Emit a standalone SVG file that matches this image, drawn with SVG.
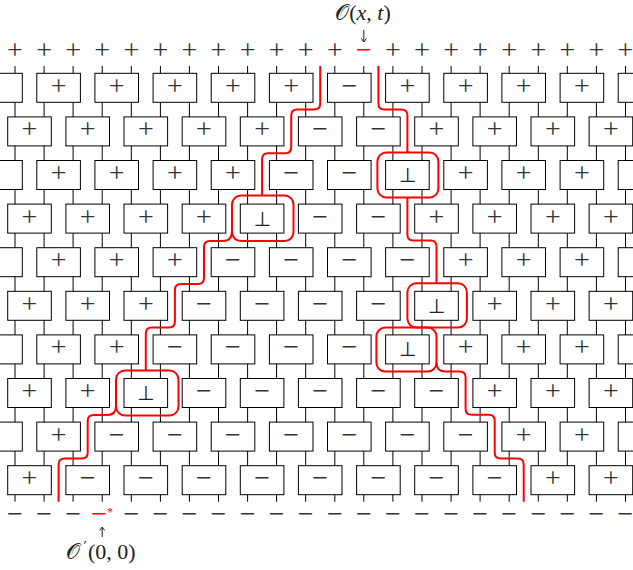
<svg xmlns="http://www.w3.org/2000/svg" width="633" height="570" viewBox="0 0 633 570">
<style>
.b{fill:#fff;stroke:#000;stroke-width:1}
.w{fill:none;stroke:#000;stroke-width:1}
.p{font-family:"Liberation Serif",serif;font-size:28px;text-anchor:middle;fill:#333}
.t{font-family:"DejaVu Sans",sans-serif;font-size:20px;text-anchor:middle;fill:#222}
.r{fill:none;stroke:#f00;stroke-width:2;stroke-linejoin:round}
.lab{font-family:"Liberation Serif",serif;font-size:22px;text-anchor:middle;fill:#222}
.ar{fill:none;stroke:#222;stroke-width:1}
.red{fill:#f00}
</style>
<rect width="633" height="570" fill="#fff"/>
<g id="connectors">
<path class="w" d="M15 66V501.7M44.1 66V501.7M73.1 66V501.7M102.2 66V501.7M131.3 66V501.7M160.4 66V501.7M189.4 66V501.7M218.5 66V501.7M247.6 66V501.7M276.6 66V501.7M305.7 66V501.7M334.8 66V501.7M363.8 66V501.7M392.9 66V501.7M422 66V501.7M451.1 66V501.7M480.1 66V501.7M509.2 66V501.7M538.3 66V501.7M567.3 66V501.7M596.4 66V501.7M625.5 66V501.7"/>
</g>
<g id="row1">
<g id="r1c0" transform="translate(-21.3 73.3)"><rect class="b" width="43.6" height="29"/></g>
<g id="r1c1" transform="translate(36.8 73.3)"><rect class="b" width="43.6" height="29"/><text class="p" x="21.8" y="21.5">+</text></g>
<g id="r1c2" transform="translate(94.9 73.3)"><rect class="b" width="43.6" height="29"/><text class="p" x="21.8" y="21.5">+</text></g>
<g id="r1c3" transform="translate(153.1 73.3)"><rect class="b" width="43.6" height="29"/><text class="p" x="21.8" y="21.5">+</text></g>
<g id="r1c4" transform="translate(211.2 73.3)"><rect class="b" width="43.6" height="29"/><text class="p" x="21.8" y="21.5">+</text></g>
<g id="r1c5" transform="translate(269.4 73.3)"><rect class="b" width="43.6" height="29"/><text class="p" x="21.8" y="21.5">+</text></g>
<g id="r1c6" transform="translate(327.5 73.3)"><rect class="b" width="43.6" height="29"/><text class="p" x="21.8" y="21.5">−</text></g>
<g id="r1c7" transform="translate(385.6 73.3)"><rect class="b" width="43.6" height="29"/><text class="p" x="21.8" y="21.5">+</text></g>
<g id="r1c8" transform="translate(443.8 73.3)"><rect class="b" width="43.6" height="29"/><text class="p" x="21.8" y="21.5">+</text></g>
<g id="r1c9" transform="translate(501.9 73.3)"><rect class="b" width="43.6" height="29"/><text class="p" x="21.8" y="21.5">+</text></g>
<g id="r1c10" transform="translate(560.1 73.3)"><rect class="b" width="43.6" height="29"/><text class="p" x="21.8" y="21.5">+</text></g>
<g id="r1c11" transform="translate(618.2 73.3)"><rect class="b" width="43.6" height="29"/></g>
</g>
<g id="row2">
<g id="r2c0" transform="translate(7.7 116.9)"><rect class="b" width="43.6" height="29"/><text class="p" x="21.8" y="21.5">+</text></g>
<g id="r2c1" transform="translate(65.9 116.9)"><rect class="b" width="43.6" height="29"/><text class="p" x="21.8" y="21.5">+</text></g>
<g id="r2c2" transform="translate(124 116.9)"><rect class="b" width="43.6" height="29"/><text class="p" x="21.8" y="21.5">+</text></g>
<g id="r2c3" transform="translate(182.2 116.9)"><rect class="b" width="43.6" height="29"/><text class="p" x="21.8" y="21.5">+</text></g>
<g id="r2c4" transform="translate(240.3 116.9)"><rect class="b" width="43.6" height="29"/><text class="p" x="21.8" y="21.5">+</text></g>
<g id="r2c5" transform="translate(298.4 116.9)"><rect class="b" width="43.6" height="29"/><text class="p" x="21.8" y="21.5">−</text></g>
<g id="r2c6" transform="translate(356.6 116.9)"><rect class="b" width="43.6" height="29"/><text class="p" x="21.8" y="21.5">−</text></g>
<g id="r2c7" transform="translate(414.7 116.9)"><rect class="b" width="43.6" height="29"/><text class="p" x="21.8" y="21.5">+</text></g>
<g id="r2c8" transform="translate(472.9 116.9)"><rect class="b" width="43.6" height="29"/><text class="p" x="21.8" y="21.5">+</text></g>
<g id="r2c9" transform="translate(531 116.9)"><rect class="b" width="43.6" height="29"/><text class="p" x="21.8" y="21.5">+</text></g>
<g id="r2c10" transform="translate(589.1 116.9)"><rect class="b" width="43.6" height="29"/><text class="p" x="21.8" y="21.5">+</text></g>
</g>
<g id="row3">
<g id="r3c0" transform="translate(-21.3 160.5)"><rect class="b" width="43.6" height="29"/></g>
<g id="r3c1" transform="translate(36.8 160.5)"><rect class="b" width="43.6" height="29"/><text class="p" x="21.8" y="21.5">+</text></g>
<g id="r3c2" transform="translate(94.9 160.5)"><rect class="b" width="43.6" height="29"/><text class="p" x="21.8" y="21.5">+</text></g>
<g id="r3c3" transform="translate(153.1 160.5)"><rect class="b" width="43.6" height="29"/><text class="p" x="21.8" y="21.5">+</text></g>
<g id="r3c4" transform="translate(211.2 160.5)"><rect class="b" width="43.6" height="29"/><text class="p" x="21.8" y="21.5">+</text></g>
<g id="r3c5" transform="translate(269.4 160.5)"><rect class="b" width="43.6" height="29"/><text class="p" x="21.8" y="21.5">−</text></g>
<g id="r3c6" transform="translate(327.5 160.5)"><rect class="b" width="43.6" height="29"/><text class="p" x="21.8" y="21.5">−</text></g>
<g id="r3c7" transform="translate(385.6 160.5)"><rect class="b" width="43.6" height="29"/><text class="t" x="21.8" y="21.5">⊥</text></g>
<g id="r3c8" transform="translate(443.8 160.5)"><rect class="b" width="43.6" height="29"/><text class="p" x="21.8" y="21.5">+</text></g>
<g id="r3c9" transform="translate(501.9 160.5)"><rect class="b" width="43.6" height="29"/><text class="p" x="21.8" y="21.5">+</text></g>
<g id="r3c10" transform="translate(560.1 160.5)"><rect class="b" width="43.6" height="29"/><text class="p" x="21.8" y="21.5">+</text></g>
<g id="r3c11" transform="translate(618.2 160.5)"><rect class="b" width="43.6" height="29"/></g>
</g>
<g id="row4">
<g id="r4c0" transform="translate(7.7 204.1)"><rect class="b" width="43.6" height="29"/><text class="p" x="21.8" y="21.5">+</text></g>
<g id="r4c1" transform="translate(65.9 204.1)"><rect class="b" width="43.6" height="29"/><text class="p" x="21.8" y="21.5">+</text></g>
<g id="r4c2" transform="translate(124 204.1)"><rect class="b" width="43.6" height="29"/><text class="p" x="21.8" y="21.5">+</text></g>
<g id="r4c3" transform="translate(182.2 204.1)"><rect class="b" width="43.6" height="29"/><text class="p" x="21.8" y="21.5">+</text></g>
<g id="r4c4" transform="translate(240.3 204.1)"><rect class="b" width="43.6" height="29"/><text class="t" x="21.8" y="21.5">⊥</text></g>
<g id="r4c5" transform="translate(298.4 204.1)"><rect class="b" width="43.6" height="29"/><text class="p" x="21.8" y="21.5">−</text></g>
<g id="r4c6" transform="translate(356.6 204.1)"><rect class="b" width="43.6" height="29"/><text class="p" x="21.8" y="21.5">−</text></g>
<g id="r4c7" transform="translate(414.7 204.1)"><rect class="b" width="43.6" height="29"/><text class="p" x="21.8" y="21.5">+</text></g>
<g id="r4c8" transform="translate(472.9 204.1)"><rect class="b" width="43.6" height="29"/><text class="p" x="21.8" y="21.5">+</text></g>
<g id="r4c9" transform="translate(531 204.1)"><rect class="b" width="43.6" height="29"/><text class="p" x="21.8" y="21.5">+</text></g>
<g id="r4c10" transform="translate(589.1 204.1)"><rect class="b" width="43.6" height="29"/><text class="p" x="21.8" y="21.5">+</text></g>
</g>
<g id="row5">
<g id="r5c0" transform="translate(-21.3 247.7)"><rect class="b" width="43.6" height="29"/></g>
<g id="r5c1" transform="translate(36.8 247.7)"><rect class="b" width="43.6" height="29"/><text class="p" x="21.8" y="21.5">+</text></g>
<g id="r5c2" transform="translate(94.9 247.7)"><rect class="b" width="43.6" height="29"/><text class="p" x="21.8" y="21.5">+</text></g>
<g id="r5c3" transform="translate(153.1 247.7)"><rect class="b" width="43.6" height="29"/><text class="p" x="21.8" y="21.5">+</text></g>
<g id="r5c4" transform="translate(211.2 247.7)"><rect class="b" width="43.6" height="29"/><text class="p" x="21.8" y="21.5">−</text></g>
<g id="r5c5" transform="translate(269.4 247.7)"><rect class="b" width="43.6" height="29"/><text class="p" x="21.8" y="21.5">−</text></g>
<g id="r5c6" transform="translate(327.5 247.7)"><rect class="b" width="43.6" height="29"/><text class="p" x="21.8" y="21.5">−</text></g>
<g id="r5c7" transform="translate(385.6 247.7)"><rect class="b" width="43.6" height="29"/><text class="p" x="21.8" y="21.5">−</text></g>
<g id="r5c8" transform="translate(443.8 247.7)"><rect class="b" width="43.6" height="29"/><text class="p" x="21.8" y="21.5">+</text></g>
<g id="r5c9" transform="translate(501.9 247.7)"><rect class="b" width="43.6" height="29"/><text class="p" x="21.8" y="21.5">+</text></g>
<g id="r5c10" transform="translate(560.1 247.7)"><rect class="b" width="43.6" height="29"/><text class="p" x="21.8" y="21.5">+</text></g>
<g id="r5c11" transform="translate(618.2 247.7)"><rect class="b" width="43.6" height="29"/></g>
</g>
<g id="row6">
<g id="r6c0" transform="translate(7.7 291.3)"><rect class="b" width="43.6" height="29"/><text class="p" x="21.8" y="21.5">+</text></g>
<g id="r6c1" transform="translate(65.9 291.3)"><rect class="b" width="43.6" height="29"/><text class="p" x="21.8" y="21.5">+</text></g>
<g id="r6c2" transform="translate(124 291.3)"><rect class="b" width="43.6" height="29"/><text class="p" x="21.8" y="21.5">+</text></g>
<g id="r6c3" transform="translate(182.2 291.3)"><rect class="b" width="43.6" height="29"/><text class="p" x="21.8" y="21.5">−</text></g>
<g id="r6c4" transform="translate(240.3 291.3)"><rect class="b" width="43.6" height="29"/><text class="p" x="21.8" y="21.5">−</text></g>
<g id="r6c5" transform="translate(298.4 291.3)"><rect class="b" width="43.6" height="29"/><text class="p" x="21.8" y="21.5">−</text></g>
<g id="r6c6" transform="translate(356.6 291.3)"><rect class="b" width="43.6" height="29"/><text class="p" x="21.8" y="21.5">−</text></g>
<g id="r6c7" transform="translate(414.7 291.3)"><rect class="b" width="43.6" height="29"/><text class="t" x="21.8" y="21.5">⊥</text></g>
<g id="r6c8" transform="translate(472.9 291.3)"><rect class="b" width="43.6" height="29"/><text class="p" x="21.8" y="21.5">+</text></g>
<g id="r6c9" transform="translate(531 291.3)"><rect class="b" width="43.6" height="29"/><text class="p" x="21.8" y="21.5">+</text></g>
<g id="r6c10" transform="translate(589.1 291.3)"><rect class="b" width="43.6" height="29"/><text class="p" x="21.8" y="21.5">+</text></g>
</g>
<g id="row7">
<g id="r7c0" transform="translate(-21.3 334.9)"><rect class="b" width="43.6" height="29"/></g>
<g id="r7c1" transform="translate(36.8 334.9)"><rect class="b" width="43.6" height="29"/><text class="p" x="21.8" y="21.5">+</text></g>
<g id="r7c2" transform="translate(94.9 334.9)"><rect class="b" width="43.6" height="29"/><text class="p" x="21.8" y="21.5">+</text></g>
<g id="r7c3" transform="translate(153.1 334.9)"><rect class="b" width="43.6" height="29"/><text class="p" x="21.8" y="21.5">−</text></g>
<g id="r7c4" transform="translate(211.2 334.9)"><rect class="b" width="43.6" height="29"/><text class="p" x="21.8" y="21.5">−</text></g>
<g id="r7c5" transform="translate(269.4 334.9)"><rect class="b" width="43.6" height="29"/><text class="p" x="21.8" y="21.5">−</text></g>
<g id="r7c6" transform="translate(327.5 334.9)"><rect class="b" width="43.6" height="29"/><text class="p" x="21.8" y="21.5">−</text></g>
<g id="r7c7" transform="translate(385.6 334.9)"><rect class="b" width="43.6" height="29"/><text class="t" x="21.8" y="21.5">⊥</text></g>
<g id="r7c8" transform="translate(443.8 334.9)"><rect class="b" width="43.6" height="29"/><text class="p" x="21.8" y="21.5">+</text></g>
<g id="r7c9" transform="translate(501.9 334.9)"><rect class="b" width="43.6" height="29"/><text class="p" x="21.8" y="21.5">+</text></g>
<g id="r7c10" transform="translate(560.1 334.9)"><rect class="b" width="43.6" height="29"/><text class="p" x="21.8" y="21.5">+</text></g>
<g id="r7c11" transform="translate(618.2 334.9)"><rect class="b" width="43.6" height="29"/></g>
</g>
<g id="row8">
<g id="r8c0" transform="translate(7.7 378.5)"><rect class="b" width="43.6" height="29"/><text class="p" x="21.8" y="21.5">+</text></g>
<g id="r8c1" transform="translate(65.9 378.5)"><rect class="b" width="43.6" height="29"/><text class="p" x="21.8" y="21.5">+</text></g>
<g id="r8c2" transform="translate(124 378.5)"><rect class="b" width="43.6" height="29"/><text class="t" x="21.8" y="21.5">⊥</text></g>
<g id="r8c3" transform="translate(182.2 378.5)"><rect class="b" width="43.6" height="29"/><text class="p" x="21.8" y="21.5">−</text></g>
<g id="r8c4" transform="translate(240.3 378.5)"><rect class="b" width="43.6" height="29"/><text class="p" x="21.8" y="21.5">−</text></g>
<g id="r8c5" transform="translate(298.4 378.5)"><rect class="b" width="43.6" height="29"/><text class="p" x="21.8" y="21.5">−</text></g>
<g id="r8c6" transform="translate(356.6 378.5)"><rect class="b" width="43.6" height="29"/><text class="p" x="21.8" y="21.5">−</text></g>
<g id="r8c7" transform="translate(414.7 378.5)"><rect class="b" width="43.6" height="29"/><text class="p" x="21.8" y="21.5">−</text></g>
<g id="r8c8" transform="translate(472.9 378.5)"><rect class="b" width="43.6" height="29"/><text class="p" x="21.8" y="21.5">+</text></g>
<g id="r8c9" transform="translate(531 378.5)"><rect class="b" width="43.6" height="29"/><text class="p" x="21.8" y="21.5">+</text></g>
<g id="r8c10" transform="translate(589.1 378.5)"><rect class="b" width="43.6" height="29"/><text class="p" x="21.8" y="21.5">+</text></g>
</g>
<g id="row9">
<g id="r9c0" transform="translate(-21.3 422.1)"><rect class="b" width="43.6" height="29"/></g>
<g id="r9c1" transform="translate(36.8 422.1)"><rect class="b" width="43.6" height="29"/><text class="p" x="21.8" y="21.5">+</text></g>
<g id="r9c2" transform="translate(94.9 422.1)"><rect class="b" width="43.6" height="29"/><text class="p" x="21.8" y="21.5">−</text></g>
<g id="r9c3" transform="translate(153.1 422.1)"><rect class="b" width="43.6" height="29"/><text class="p" x="21.8" y="21.5">−</text></g>
<g id="r9c4" transform="translate(211.2 422.1)"><rect class="b" width="43.6" height="29"/><text class="p" x="21.8" y="21.5">−</text></g>
<g id="r9c5" transform="translate(269.4 422.1)"><rect class="b" width="43.6" height="29"/><text class="p" x="21.8" y="21.5">−</text></g>
<g id="r9c6" transform="translate(327.5 422.1)"><rect class="b" width="43.6" height="29"/><text class="p" x="21.8" y="21.5">−</text></g>
<g id="r9c7" transform="translate(385.6 422.1)"><rect class="b" width="43.6" height="29"/><text class="p" x="21.8" y="21.5">−</text></g>
<g id="r9c8" transform="translate(443.8 422.1)"><rect class="b" width="43.6" height="29"/><text class="p" x="21.8" y="21.5">−</text></g>
<g id="r9c9" transform="translate(501.9 422.1)"><rect class="b" width="43.6" height="29"/><text class="p" x="21.8" y="21.5">+</text></g>
<g id="r9c10" transform="translate(560.1 422.1)"><rect class="b" width="43.6" height="29"/><text class="p" x="21.8" y="21.5">+</text></g>
<g id="r9c11" transform="translate(618.2 422.1)"><rect class="b" width="43.6" height="29"/></g>
</g>
<g id="row10">
<g id="r10c0" transform="translate(7.7 465.7)"><rect class="b" width="43.6" height="29"/><text class="p" x="21.8" y="21.5">+</text></g>
<g id="r10c1" transform="translate(65.9 465.7)"><rect class="b" width="43.6" height="29"/><text class="p" x="21.8" y="21.5">−</text></g>
<g id="r10c2" transform="translate(124 465.7)"><rect class="b" width="43.6" height="29"/><text class="p" x="21.8" y="21.5">−</text></g>
<g id="r10c3" transform="translate(182.2 465.7)"><rect class="b" width="43.6" height="29"/><text class="p" x="21.8" y="21.5">−</text></g>
<g id="r10c4" transform="translate(240.3 465.7)"><rect class="b" width="43.6" height="29"/><text class="p" x="21.8" y="21.5">−</text></g>
<g id="r10c5" transform="translate(298.4 465.7)"><rect class="b" width="43.6" height="29"/><text class="p" x="21.8" y="21.5">−</text></g>
<g id="r10c6" transform="translate(356.6 465.7)"><rect class="b" width="43.6" height="29"/><text class="p" x="21.8" y="21.5">−</text></g>
<g id="r10c7" transform="translate(414.7 465.7)"><rect class="b" width="43.6" height="29"/><text class="p" x="21.8" y="21.5">−</text></g>
<g id="r10c8" transform="translate(472.9 465.7)"><rect class="b" width="43.6" height="29"/><text class="p" x="21.8" y="21.5">−</text></g>
<g id="r10c9" transform="translate(531 465.7)"><rect class="b" width="43.6" height="29"/><text class="p" x="21.8" y="21.5">+</text></g>
<g id="r10c10" transform="translate(589.1 465.7)"><rect class="b" width="43.6" height="29"/><text class="p" x="21.8" y="21.5">+</text></g>
</g>
<g id="red-boundaries">
<path class="r" d="M320.2 66V103.6Q320.2 109.6 314.2 109.6H297.2Q291.2 109.6 291.2 115.6V147.2Q291.2 153.2 285.2 153.2H268.1Q262.1 153.2 262.1 159.2V195.8"/>
<rect class="r" x="232" y="195.5" width="61.5" height="45.6" rx="9"/>
<path class="r" d="M232 231Q232 241 223 241H210Q204 241 204 247V278Q204 284 198 284H180.9Q174.9 284 174.9 290V321.6Q174.9 327.6 168.9 327.6H151.8Q145.8 327.6 145.8 333.6V370.5"/>
<rect class="r" x="116" y="370.5" width="62.5" height="45" rx="9"/>
<path class="r" d="M116 406Q116 415 107 415H93.7Q87.7 415 87.7 421V452.4Q87.7 458.4 81.7 458.4H64.6Q58.6 458.4 58.6 464.4V501.7"/>
<path class="r" d="M378.4 66V103.6Q378.4 109.6 384.4 109.6H401.4Q407.4 109.6 407.4 115.6V152.5"/>
<rect class="r" x="377.4" y="152.5" width="61" height="45" rx="9"/>
<path class="r" d="M407.4 197.5V234.4Q407.4 240.4 413.4 240.4H430.5Q436.5 240.4 436.5 246.4V283.2"/>
<rect class="r" x="407.4" y="283.2" width="59.5" height="44.4" rx="9"/>
<rect class="r" x="376.4" y="327.6" width="60.1" height="44" rx="9"/>
<path class="r" d="M436.5 362.6Q436.5 371.6 445.5 371.6H459.6Q465.6 371.6 465.6 377.6V408.8Q465.6 414.8 471.6 414.8H488.7Q494.7 414.8 494.7 420.8V452.4Q494.7 458.4 500.7 458.4H517.7Q523.7 458.4 523.7 464.4V501.7"/>
</g>
<g id="top-states">
<text class="p" x="15" y="59">+</text>
<text class="p" x="44.1" y="59">+</text>
<text class="p" x="73.1" y="59">+</text>
<text class="p" x="102.2" y="59">+</text>
<text class="p" x="131.3" y="59">+</text>
<text class="p" x="160.4" y="59">+</text>
<text class="p" x="189.4" y="59">+</text>
<text class="p" x="218.5" y="59">+</text>
<text class="p" x="247.6" y="59">+</text>
<text class="p" x="276.6" y="59">+</text>
<text class="p" x="305.7" y="59">+</text>
<text class="p" x="334.8" y="59">+</text>
<text class="p red" x="363.8" y="59">−</text>
<text class="p" x="392.9" y="59">+</text>
<text class="p" x="422" y="59">+</text>
<text class="p" x="451.1" y="59">+</text>
<text class="p" x="480.1" y="59">+</text>
<text class="p" x="509.2" y="59">+</text>
<text class="p" x="538.3" y="59">+</text>
<text class="p" x="567.3" y="59">+</text>
<text class="p" x="596.4" y="59">+</text>
<text class="p" x="625.5" y="59">+</text>
</g>
<g id="bottom-states">
<text class="p" x="15" y="522.7">−</text>
<text class="p" x="44.1" y="522.7">−</text>
<text class="p" x="73.1" y="522.7">−</text>
<text class="p red" x="102.2" y="522.7">−<tspan dx="0" dy="-7" style="font-size:12px">*</tspan></text>
<text class="p" x="131.3" y="522.7">−</text>
<text class="p" x="160.4" y="522.7">−</text>
<text class="p" x="189.4" y="522.7">−</text>
<text class="p" x="218.5" y="522.7">−</text>
<text class="p" x="247.6" y="522.7">−</text>
<text class="p" x="276.6" y="522.7">−</text>
<text class="p" x="305.7" y="522.7">−</text>
<text class="p" x="334.8" y="522.7">−</text>
<text class="p" x="363.8" y="522.7">−</text>
<text class="p" x="392.9" y="522.7">−</text>
<text class="p" x="422" y="522.7">−</text>
<text class="p" x="451.1" y="522.7">−</text>
<text class="p" x="480.1" y="522.7">−</text>
<text class="p" x="509.2" y="522.7">−</text>
<text class="p" x="538.3" y="522.7">−</text>
<text class="p" x="567.3" y="522.7">−</text>
<text class="p" x="596.4" y="522.7">−</text>
<text class="p" x="625.5" y="522.7">−</text>
</g>
<g id="label-top">
<text class="lab" x="363" y="20">𝒪(<tspan font-style="italic">x</tspan>, <tspan font-style="italic">t</tspan>)</text>
<path class="ar" d="M363.8 30V42M361.3 38.5L363.8 42L366.3 38.5"/>
</g>
<g id="label-bottom">
<text class="lab" x="101" y="559">𝒪<tspan style="font-family:'DejaVu Sans',sans-serif;font-size:15px" dx="3" dy="-6">′</tspan><tspan dx="1" dy="6">(0, 0)</tspan></text>
<path class="ar" d="M102.2 537V527M99.7 530.5L102.2 527L104.7 530.5"/>
</g>
</svg>
